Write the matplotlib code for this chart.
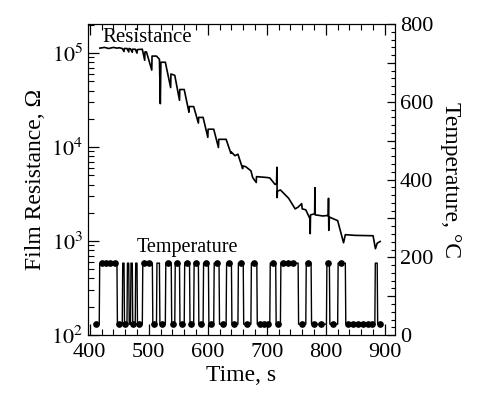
import matplotlib
matplotlib.use("Agg")
import matplotlib.pyplot as plt
from matplotlib.ticker import MultipleLocator, FuncFormatter, LogLocator, NullFormatter
import numpy as np

plt.rcParams['font.family'] = ['Liberation Serif', 'DejaVu Serif']
plt.rcParams['mathtext.fontset'] = 'stix'

# Resistance trace (time s, resistance Ohm)
res_time = [417, 425, 432, 440, 446, 450, 455, 458, 458.5, 463, 466, 466.5, 469, 472,
            472.5, 477, 480, 480.5, 489, 493, 493.5, 496, 505, 505.5, 513, 518, 519.5,
            520.5, 528, 537, 537.5, 544, 552, 552.5, 560, 568, 568.5, 576, 584, 584.5,
            592, 600, 600.5, 610, 618, 618.5, 631, 639, 639.5, 646, 651, 659, 659.5,
            664, 673, 676, 682, 682.5, 700, 705, 714, 716.5, 717, 717.5, 718, 723, 737,
            748, 753, 759, 760, 766, 773, 773.5, 774, 781, 781.5, 782, 795, 802, 804,
            804.5, 805, 806, 820, 830, 833, 850, 880, 884, 887, 892]
res_value = [1.13e5, 1.15e5, 1.12e5, 1.15e5, 1.13e5, 1.14e5, 1.12e5, 1.04e5, 1.12e5,
             1.12e5, 1.03e5, 1.12e5, 1.11e5, 1.02e5, 1.10e5, 1.10e5, 1.00e5, 1.09e5,
             1.10e5, 8.4e4, 1.03e5, 1.03e5, 6.6e4, 9.3e4, 9.3e4, 8.6e4, 2.9e4, 8.0e4,
             8.0e4, 4.3e4, 6.0e4, 5.8e4, 3.15e4, 4.1e4, 4.1e4, 2.35e4, 2.7e4, 2.7e4,
             1.8e4, 2.07e4, 2.07e4, 1.27e4, 1.55e4, 1.55e4, 9.9e3, 1.21e4, 1.21e4,
             8.6e3, 8.9e3, 8.1e3, 8.4e3, 5.9e3, 6.3e3, 6.2e3, 5.6e3, 4.75e3, 4.2e3,
             4.85e3, 4.75e3, 4.7e3, 4.0e3, 4.1e3, 6.1e3, 2.9e3, 3.4e3, 3.5e3, 2.85e3,
             2.2e3, 2.3e3, 2.5e3, 2.2e3, 2.15e3, 1.73e3, 1.2e3, 1.9e3, 1.95e3, 3.7e3,
             1.9e3, 1.85e3, 1.87e3, 1.85e3, 2.85e3, 1.3e3, 1.8e3, 1.65e3, 0.96e3,
             1.17e3, 1.15e3, 1.14e3, 0.83e3, 0.95e3, 0.99e3]

# Temperature pulses (rise time, fall time), low / high level in degC
pulse_rise = [416, 455, 463, 469, 477, 489, 513, 528, 544, 560, 576, 592, 610, 631,
              651, 673, 705, 723, 766, 801, 820, 883]
pulse_fall = [446, 458, 466, 472, 480, 506, 518, 538, 552, 569, 584, 601, 619, 640,
              660, 683, 715, 753, 775, 806, 833, 887]
temp_low = 28
temp_high = 185
temp_start, temp_end = 408, 893

# Sampled temperature points (dots)
high_dot_time = [420, 428, 435, 442, 492, 501, 533, 548, 565, 580, 597, 615, 636,
                 656, 678, 710, 727, 736, 745, 770, 803, 825]
low_dot_time = [411, 450, 460, 474, 484, 509, 523, 541, 556, 572, 588, 605, 625, 645,
                666, 688, 695, 702, 719, 760, 780, 792, 812, 838, 846, 855, 863, 871,
                879, 892]

fig = plt.figure(figsize=(4.81, 3.97), dpi=100)
ax = fig.add_axes([0.183, 0.156, 0.638, 0.7835])
ax2 = ax.twinx()

ax.plot(res_time, res_value, color='black', lw=1.2)
ax.set_yscale('log')
ax.set_ylim(1e2, 2.04e5)
ax.set_xlim(397, 917)

# temperature step path
tt = [temp_start]
tv = [temp_low]
for r, f in zip(pulse_rise, pulse_fall):
    tt += [r, r + 0.8, f, f + 0.8]
    tv += [temp_low, temp_high, temp_high, temp_low]
tt.append(temp_end)
tv.append(temp_low)
ax2.plot(tt, tv, color='black', lw=1.0)
ax2.plot(high_dot_time, [temp_high] * len(high_dot_time), 'o', color='black', ms=3.8)
ax2.plot(low_dot_time, [temp_low] * len(low_dot_time), 'o', color='black', ms=3.8)
ax2.set_ylim(0, 800)

# ticks
ax.xaxis.set_major_locator(MultipleLocator(100))
ax.xaxis.set_minor_locator(MultipleLocator(20))
ax.yaxis.set_major_locator(LogLocator(base=10, numticks=10))
ax.yaxis.set_minor_locator(LogLocator(base=10, subs=np.arange(2, 10), numticks=20))
ax.yaxis.set_minor_formatter(NullFormatter())
ax.yaxis.set_major_formatter(FuncFormatter(lambda v, p: r'$10^{%d}$' % round(np.log10(v))))
ax.tick_params(axis='both', which='major', direction='in', length=8, width=0.9,
               labelsize=16, top=True)
ax.tick_params(axis='both', which='minor', direction='in', length=4, width=0.8, top=True)
ax.tick_params(axis='x', pad=6)

ax2.yaxis.set_major_locator(MultipleLocator(100))
ax2.yaxis.set_minor_locator(MultipleLocator(20))
ax2.yaxis.set_major_formatter(FuncFormatter(lambda v, p: '%d' % v if round(v) % 200 == 0 else ''))
ax2.tick_params(axis='y', which='major', direction='in', length=6, width=0.9, labelsize=16)
ax2.tick_params(axis='y', which='minor', direction='in', length=3, width=0.8)

ax.set_xlabel('Time, s', fontsize=17, labelpad=2)
ax.set_ylabel('Film Resistance, Ω', fontsize=17, labelpad=4)
ax2.set_ylabel('Temperature, °C', fontsize=17, rotation=270, labelpad=20)

ax.text(0.048, 0.958, 'Resistance', transform=ax.transAxes, fontsize=15,
        ha='left', va='center')
ax.text(0.16, 0.283, 'Temperature', transform=ax.transAxes, fontsize=14.5,
        ha='left', va='center')

fig.savefig('out.png', dpi=100)
